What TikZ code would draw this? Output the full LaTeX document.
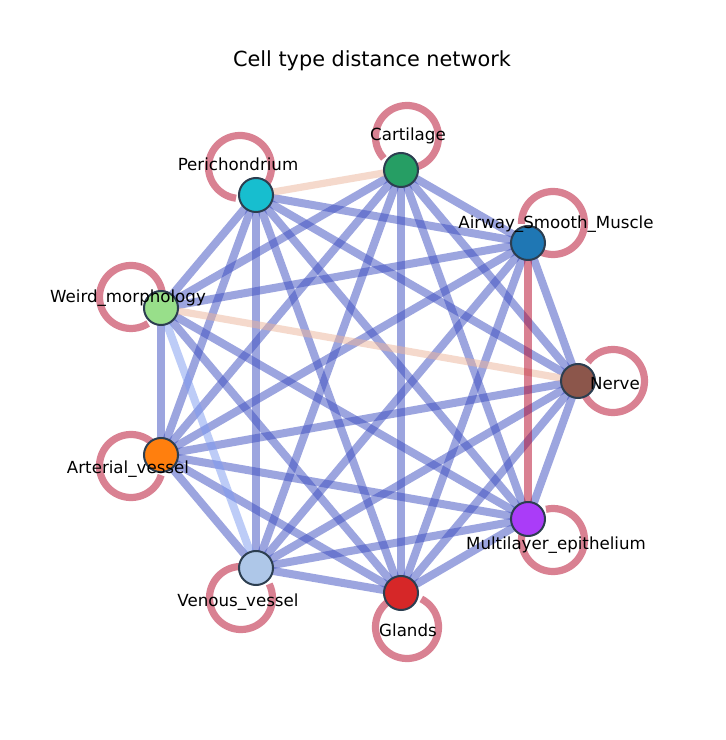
\documentclass[tikz,border=0pt]{standalone}
\usepackage{fontspec}
\setmainfont{DejaVu Sans}
\usetikzlibrary{calc}
\pgfdeclarelayer{background}
\pgfsetlayers{background,main}
\definecolor{eblue}{RGB}{59,76,192}
\definecolor{ered}{RGB}{180,4,38}
\definecolor{epeach}{RGB}{236,180,154}
\definecolor{elblue}{RGB}{125,155,241}
\definecolor{nborder}{RGB}{44,62,80}
\definecolor{ccar}{RGB}{38,158,100}
\definecolor{cper}{RGB}{23,190,207}
\definecolor{cair}{RGB}{31,119,180}
\definecolor{cwei}{RGB}{152,223,138}
\definecolor{cner}{RGB}{140,86,75}
\definecolor{cart}{RGB}{255,127,14}
\definecolor{cmul}{RGB}{170,60,248}
\definecolor{cven}{RGB}{174,199,232}
\definecolor{cgla}{RGB}{214,39,40}
\newcommand\selfloop[2]{%
  \draw[loopedge] let \p1=($(#1)-(#2)$), \n1={atan2(\y1,\x1)} in
    ($(#2)+(\n1:31.5)$) arc[start angle=\n1, end angle=\n1+323, radius=31.5];}
\begin{document}
\begin{tikzpicture}[x=0.5pt,y=0.5pt,
  nd/.style={circle,draw=nborder,line width=1pt,minimum size=17pt,inner sep=0pt},
  blueedge/.style={draw=eblue,draw opacity=0.5,line width=4pt},
  rededge/.style={draw=ered,draw opacity=0.5,line width=4.2pt},
  peachedge/.style={draw=epeach,draw opacity=0.5,line width=3.6pt},
  lblueedge/.style={draw=elblue,draw opacity=0.5,line width=4pt},
  loopedge/.style={draw=ered,draw opacity=0.5,line width=3.6pt},
  lab/.style={font=\fontsize{8.33}{10}\selectfont,anchor=base,inner sep=0pt},
  ttl/.style={font=\fontsize{10.4}{12}\selectfont,anchor=base,inner sep=0pt}]
\useasboundingbox (0,0) rectangle (725,740);
\node[ttl] (title) at (372,673) {Cell type distance network};
% nodes
\node[nd,fill=ccar] (car) at (401,570) {};
\node[nd,fill=cper] (per) at (256,545) {};
\node[nd,fill=cair] (air) at (528,497) {};
\node[nd,fill=cwei] (wei) at (161,432) {};
\node[nd,fill=cner] (ner) at (578,359) {};
\node[nd,fill=cart] (art) at (161,285) {};
\node[nd,fill=cmul] (mul) at (528,221) {};
\node[nd,fill=cven] (ven) at (256,172) {};
\node[nd,fill=cgla] (gla) at (401,147) {};
% loop centres
\coordinate (lcar) at (407,603);
\coordinate (lper) at (240,573);
\coordinate (lair) at (553,517);
\coordinate (lwei) at (131,443);
\coordinate (lner) at (613,359);
\coordinate (lart) at (131,274);
\coordinate (lmul) at (553,200);
\coordinate (lven) at (241,142);
\coordinate (lgla) at (407,113);
\begin{pgfonlayer}{background}
\fill[white] (0,0) rectangle (725,740);
\foreach \a/\b in {car/air,car/wei,car/ner,car/art,car/mul,car/ven,car/gla,
  per/air,per/wei,per/ner,per/art,per/mul,per/ven,per/gla,
  air/wei,air/ner,air/art,air/ven,air/gla,
  wei/art,wei/mul,wei/gla,
  ner/art,ner/mul,ner/ven,ner/gla,
  art/mul,art/ven,art/gla,
  mul/ven,mul/gla,ven/gla}
  {\path[blueedge] (\a.center) -- (\b.center);}
\path[peachedge] (car.center) -- (per.center);
\path[peachedge] (wei.center) -- (ner.center);
\path[lblueedge] (wei.center) -- (ven.center);
\path[rededge] (air.center) -- (mul.center);
\selfloop{car}{lcar}
\selfloop{per}{lper}
\selfloop{air}{lair}
\selfloop{wei}{lwei}
\selfloop{ner}{lner}
\selfloop{art}{lart}
\selfloop{mul}{lmul}
\selfloop{ven}{lven}
\selfloop{gla}{lgla}
\end{pgfonlayer}
% labels
\node[lab] (tcar) at (408,599) {Cartilage};
\node[lab] (tper) at (238,569) {Perichondrium};
\node[lab] (tair) at (556,511) {Airway\_Smooth\_Muscle};
\node[lab] (twei) at (128,437) {Weird\_morphology};
\node[lab] (tner) at (615,350) {Nerve};
\node[lab] (tart) at (128,266) {Arterial\_vessel};
\node[lab] (tmul) at (556,190) {Multilayer\_epithelium};
\node[lab] (tven) at (238,133) {Venous\_vessel};
\node[lab] (tgla) at (408,103) {Glands};
\end{tikzpicture}
\end{document}
